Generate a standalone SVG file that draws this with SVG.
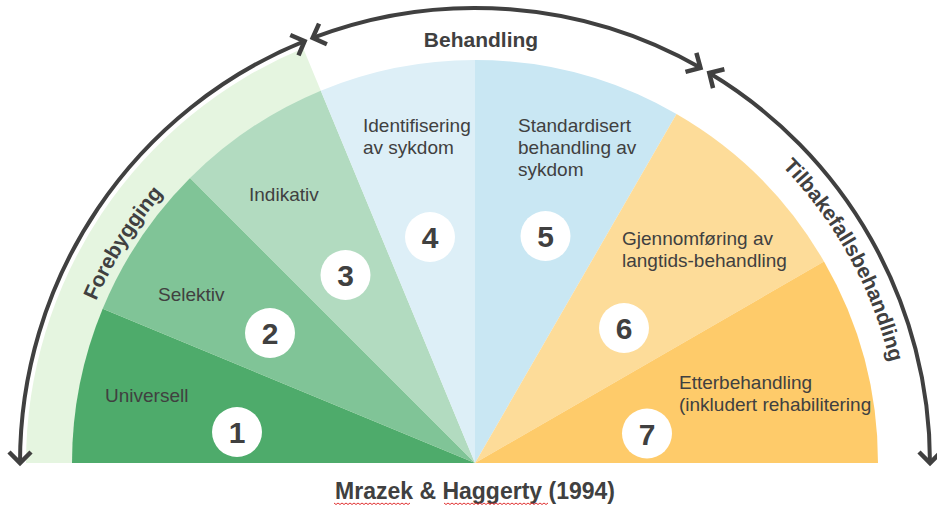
<svg xmlns="http://www.w3.org/2000/svg" xmlns:xlink="http://www.w3.org/1999/xlink" width="937" height="505" viewBox="0 0 937 505">
  <style>
    .lbl { font-family: "Liberation Sans", Arial, sans-serif; font-size: 19px; fill: #404040; }
    .num { font-family: "Liberation Sans", Arial, sans-serif; font-size: 30px; font-weight: bold; fill: #404040; text-anchor: middle; }
    .ttl { font-family: "Liberation Sans", Arial, sans-serif; font-size: 21px; font-weight: bold; fill: #404040; }
    .cap { font-family: "Liberation Sans", Arial, sans-serif; font-size: 23px; font-weight: bold; fill: #404040; text-anchor: middle; }
    .disc { fill: #ffffff; }
    .arc { fill: none; stroke: #404040; stroke-width: 4; marker-start: url(#chev); marker-end: url(#chev); }
    .squig { fill: none; stroke: #e03030; stroke-width: 1; }
  </style>
  <defs>
    <marker id="chev" markerUnits="userSpaceOnUse" viewBox="-20 -16 26 32" refX="0" refY="0" markerWidth="26" markerHeight="32" orient="auto-start-reverse" overflow="visible">
      <path d="M -11 -11 L 0 0 L -11 11" fill="none" stroke="#404040" stroke-width="4.5" stroke-linecap="butt" stroke-linejoin="miter"/>
    </marker>
    <path id="pForeb" d="M 63 463 A 412 412 0 0 1 475 51"/>
    <path id="pTilb" d="M 475 36 A 427 427 0 0 1 902 463"/>
  </defs>
  <rect width="937" height="505" fill="#ffffff"/>

  <g id="band-forebygging">
    <path d="M 475 463 L 26 463 A 449 449 0 0 1 303.2 48.2 Z" fill="#e5f5e0"/>
  </g>

  <g id="w1">
    <path d="M 475 463 L 72 463 A 403 403 0 0 1 102.68 308.78 Z" fill="#4eab6b"/>
    <text class="lbl" x="105" y="402">Universell</text>
    <circle class="disc" cx="237" cy="432" r="25"/>
    <text class="num" x="237" y="443">1</text>
  </g>
  <g id="w2">
    <path d="M 475 463 L 102.68 308.78 A 403 403 0 0 1 190.04 178.04 Z" fill="#80c497"/>
    <text class="lbl" x="158" y="301">Selektiv</text>
    <circle class="disc" cx="270" cy="333" r="25"/>
    <text class="num" x="270" y="344">2</text>
  </g>
  <g id="w3">
    <path d="M 475 463 L 190.04 178.04 A 403 403 0 0 1 320.78 90.68 Z" fill="#b2dbc0"/>
    <text class="lbl" x="249" y="201">Indikativ</text>
    <circle class="disc" cx="345.5" cy="275" r="25"/>
    <text class="num" x="345.5" y="286">3</text>
  </g>
  <g id="w4">
    <path d="M 475 463 L 320.78 90.68 A 403 403 0 0 1 475 60 Z" fill="#ddeff7"/>
    <text class="lbl" x="363" y="132">Identifisering</text>
    <text class="lbl" x="363" y="154">av sykdom</text>
    <circle class="disc" cx="430" cy="237" r="25"/>
    <text class="num" x="430" y="248">4</text>
  </g>
  <g id="w5">
    <path d="M 475 463 L 475 60 A 403 403 0 0 1 676.5 114 Z" fill="#c9e7f3"/>
    <text class="lbl" x="518" y="132">Standardisert</text>
    <text class="lbl" x="518" y="154">behandling av</text>
    <text class="lbl" x="518" y="176">sykdom</text>
    <circle class="disc" cx="545.5" cy="236" r="25"/>
    <text class="num" x="545.5" y="247">5</text>
  </g>
  <g id="w6">
    <path d="M 475 463 L 676.5 114 A 403 403 0 0 1 824.01 261.5 Z" fill="#fddc99"/>
    <text class="lbl" x="622" y="245">Gjennomføring av</text>
    <text class="lbl" x="622" y="267">langtids-behandling</text>
    <circle class="disc" cx="624" cy="328" r="25"/>
    <text class="num" x="624" y="339">6</text>
  </g>
  <g id="w7">
    <path d="M 475 463 L 824.01 261.5 A 403 403 0 0 1 878 463 Z" fill="#fecb6a"/>
    <text class="lbl" x="679" y="389">Etterbehandling</text>
    <text class="lbl" x="679" y="411">(inkludert rehabilitering</text>
    <circle class="disc" cx="647" cy="433.5" r="25"/>
    <text class="num" x="647" y="444.5">7</text>
  </g>

  <g id="connectors">
    <path id="a-forebygging" class="arc" d="M 20 463 A 455 455 0 0 1 304.6 41.1"/>
    <path id="a-behandling" class="arc" d="M 312.7 37.9 A 455 455 0 0 1 700.5 67.8"/>
    <path id="a-tilbakefall" class="arc" d="M 709.3 73 A 455 455 0 0 1 930 463"/>
  </g>

  <g id="arc-labels">
    <text class="ttl"><textPath xlink:href="#pForeb" href="#pForeb" startOffset="230" text-anchor="middle">Forebygging</textPath></text>
    <text class="ttl" x="481" y="47" text-anchor="middle">Behandling</text>
    <text class="ttl"><textPath xlink:href="#pTilb" href="#pTilb" startOffset="456" text-anchor="middle">Tilbakefallsbehandling</textPath></text>
  </g>

  <g id="caption">
    <text class="cap" x="475" y="499">Mrazek &amp; Haggerty (1994)</text>
    <path class="squig" d="M 334 503 l 2 1.5 l 2 -1.5 l 2 1.5 l 2 -1.5 l 2 1.5 l 2 -1.5 l 2 1.5 l 2 -1.5 l 2 1.5 l 2 -1.5 l 2 1.5 l 2 -1.5 l 2 1.5 l 2 -1.5 l 2 1.5 l 2 -1.5 l 2 1.5 l 2 -1.5 l 2 1.5 l 2 -1.5 l 2 1.5 l 2 -1.5 l 2 1.5 l 2 -1.5 l 2 1.5 l 2 -1.5 l 2 1.5 l 2 -1.5 l 2 1.5 l 2 -1.5 l 2 1.5 l 2 -1.5 l 2 1.5 l 2 -1.5 l 2 1.5 l 2 -1.5 l 2 1.5 l 2 -1.5"/>
    <path class="squig" d="M 444 503 l 2 1.5 l 2 -1.5 l 2 1.5 l 2 -1.5 l 2 1.5 l 2 -1.5 l 2 1.5 l 2 -1.5 l 2 1.5 l 2 -1.5 l 2 1.5 l 2 -1.5 l 2 1.5 l 2 -1.5 l 2 1.5 l 2 -1.5 l 2 1.5 l 2 -1.5 l 2 1.5 l 2 -1.5 l 2 1.5 l 2 -1.5 l 2 1.5 l 2 -1.5 l 2 1.5 l 2 -1.5 l 2 1.5 l 2 -1.5 l 2 1.5 l 2 -1.5 l 2 1.5 l 2 -1.5 l 2 1.5 l 2 -1.5 l 2 1.5 l 2 -1.5 l 2 1.5 l 2 -1.5 l 2 1.5 l 2 -1.5 l 2 1.5 l 2 -1.5 l 2 1.5 l 2 -1.5 l 2 1.5 l 2 -1.5 l 2 1.5 l 2 -1.5 l 2 1.5 l 2 -1.5 l 2 1.5 l 2 -1.5"/>
  </g>
</svg>
